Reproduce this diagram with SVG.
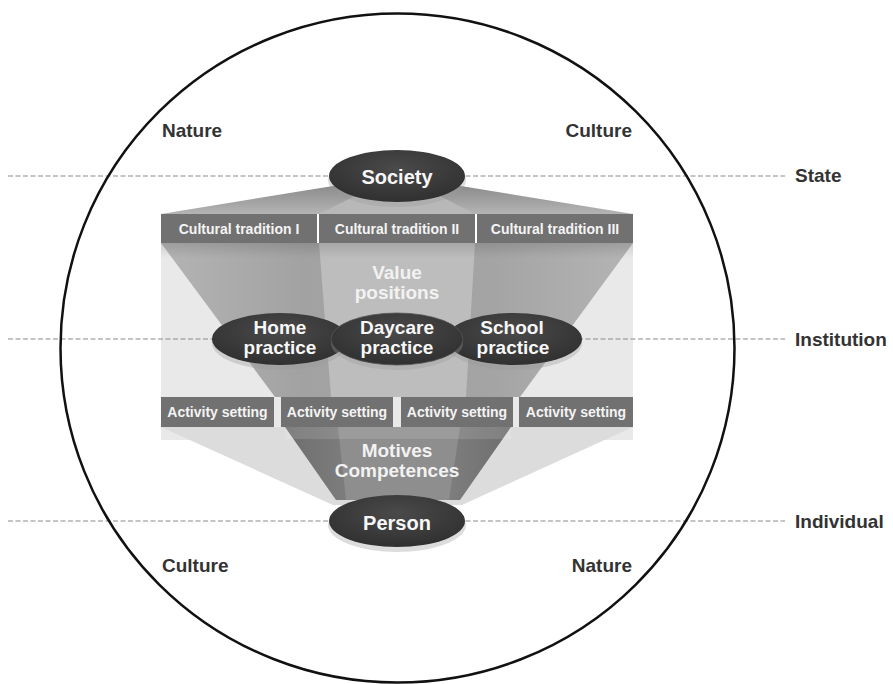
<svg xmlns="http://www.w3.org/2000/svg" width="893" height="684" viewBox="0 0 893 684">
<style>
.lbl{font-family:"Liberation Sans",Arial,sans-serif;font-weight:bold;font-size:19px;fill:#333}
.bar{fill:#717171}
.bartxt{font-family:"Liberation Sans",Arial,sans-serif;font-weight:bold;font-size:14px;fill:#f4f4f4;text-anchor:middle}
.node{fill:url(#nodeG)}
.shadow{fill:#9a9a9a;opacity:0.35}
.ntxt{font-family:"Liberation Sans",Arial,sans-serif;font-weight:bold;font-size:20px;fill:#f7f7f7;text-anchor:middle}
.ntxt2{font-family:"Liberation Sans",Arial,sans-serif;font-weight:bold;font-size:19px;fill:#f7f7f7;text-anchor:middle}
.mid{font-family:"Liberation Sans",Arial,sans-serif;font-weight:bold;font-size:19px;fill:#f2f2f2;text-anchor:middle}
.dash{stroke:#8a8a8a;stroke-width:1;stroke-dasharray:5 2.5;fill:none}
</style>
<defs>
<radialGradient id="nodeG" cx="0.5" cy="0.35" r="0.7">
<stop offset="0" stop-color="#4a4a4a"/>
<stop offset="1" stop-color="#2e2e2e"/>
</radialGradient>
<linearGradient id="topFan" x1="0" y1="186" x2="0" y2="214" gradientUnits="userSpaceOnUse">
<stop offset="0" stop-color="#8c8c8c"/>
<stop offset="1" stop-color="#b4b4b4"/>
</linearGradient>
<linearGradient id="midFan" x1="161" y1="0" x2="633" y2="0" gradientUnits="userSpaceOnUse">
<stop offset="0" stop-color="#b4b4b4"/>
<stop offset="0.3" stop-color="#a2a2a2"/>
<stop offset="0.7" stop-color="#a4a4a4"/>
<stop offset="1" stop-color="#b4b4b4"/>
</linearGradient>
<linearGradient id="botFan" x1="285" y1="0" x2="511" y2="0" gradientUnits="userSpaceOnUse">
<stop offset="0" stop-color="#6e6e6e"/>
<stop offset="0.5" stop-color="#8a8a8a"/>
<stop offset="1" stop-color="#6e6e6e"/>
</linearGradient>
<linearGradient id="shade" x1="0" y1="243" x2="0" y2="258" gradientUnits="userSpaceOnUse">
<stop offset="0" stop-color="#000" stop-opacity="0.12"/>
<stop offset="1" stop-color="#000" stop-opacity="0"/>
</linearGradient>
</defs>
<rect x="0" y="0" width="893" height="684" fill="#ffffff"/>

<g id="fans">
<polygon points="161,214 333,186 461,186 633,214" fill="url(#topFan)"/>
<polygon points="355,196 440,196 475,214 319,214" fill="#b8b8b8"/>
<rect x="161" y="243" width="472" height="197" fill="#e9e9e9"/>
<polygon points="161,427 633,427 462,505 333,505" fill="#dcdcdc"/>
<polygon points="161,243 633,243 520,397 275,397" fill="url(#midFan)"/>
<polygon points="319,243 475,243 466,397 331,397" fill="#bdbdbd"/>
<rect x="161" y="243" width="472" height="15" fill="url(#shade)"/>
<polygon points="285,427 511,427 460,500 336,500" fill="url(#botFan)"/>
<polygon points="338,427 460,427 449,500 346,500" fill="#8e8e8e"/>
<rect x="285" y="427" width="226" height="12" fill="#ffffff" opacity="0.12"/>
</g>

<g id="connectors">
<line class="dash" x1="8" y1="176" x2="785" y2="176"/>
<line class="dash" x1="8" y1="339" x2="785" y2="339"/>
<line class="dash" x1="8" y1="521" x2="785" y2="521"/>
</g>

<ellipse id="boundary" cx="397.5" cy="348" rx="337" ry="334.5" fill="none" stroke="#111" stroke-width="2.5"/>

<g id="label-nature-top"><text class="lbl" x="162" y="137">Nature</text></g>
<g id="label-culture-top"><text class="lbl" x="632" y="137" text-anchor="end">Culture</text></g>
<g id="label-culture-bottom"><text class="lbl" x="162" y="572">Culture</text></g>
<g id="label-nature-bottom"><text class="lbl" x="632" y="572" text-anchor="end">Nature</text></g>
<g id="label-state"><text class="lbl" x="795" y="182">State</text></g>
<g id="label-institution"><text class="lbl" x="795" y="346">Institution</text></g>
<g id="label-individual"><text class="lbl" x="795" y="528">Individual</text></g>

<g id="trad1"><rect class="bar" x="161" y="214" width="156" height="29"/><text class="bartxt" x="239" y="233.5">Cultural tradition I</text></g>
<g id="trad2"><rect class="bar" x="319" y="214" width="156" height="29"/><text class="bartxt" x="397" y="233.5">Cultural tradition II</text></g>
<g id="trad3"><rect class="bar" x="477" y="214" width="156" height="29"/><text class="bartxt" x="555" y="233.5">Cultural tradition III</text></g>

<g id="value-positions"><text class="mid" x="397" y="279">Value</text><text class="mid" x="397" y="299">positions</text></g>

<g id="act1"><rect class="bar" x="161" y="397" width="113" height="30"/><text class="bartxt" x="217.5" y="417">Activity setting</text></g>
<g id="act2"><rect class="bar" x="281" y="397" width="112" height="30"/><text class="bartxt" x="337" y="417">Activity setting</text></g>
<g id="act3"><rect class="bar" x="401" y="397" width="112" height="30"/><text class="bartxt" x="457" y="417">Activity setting</text></g>
<g id="act4"><rect class="bar" x="519" y="397" width="114" height="30"/><text class="bartxt" x="576" y="417">Activity setting</text></g>

<g id="motives"><text class="mid" x="397" y="457">Motives</text><text class="mid" x="397" y="477">Competences</text></g>

<g id="society">
<ellipse class="shadow" cx="397" cy="180" rx="69" ry="27"/>
<ellipse class="node" cx="397" cy="176" rx="68" ry="26"/>
<text class="ntxt" x="397" y="184" font-size="21">Society</text>
</g>

<g id="home">
<ellipse class="shadow" cx="280" cy="343" rx="68" ry="27"/>
<ellipse class="node" cx="280" cy="339" rx="68" ry="26"/>
<text class="ntxt2" x="280" y="334">Home</text><text class="ntxt2" x="280" y="354">practice</text>
</g>
<g id="school">
<ellipse class="shadow" cx="514" cy="343" rx="68" ry="27"/>
<ellipse class="node" cx="514" cy="339" rx="68" ry="26"/>
<text class="ntxt2" x="512" y="334">School</text><text class="ntxt2" x="513" y="354">practice</text>
</g>
<g id="daycare">
<ellipse class="shadow" cx="397" cy="343" rx="66" ry="27"/>
<ellipse class="node" cx="397" cy="339" rx="66" ry="26" stroke="#555" stroke-width="0.8"/>
<text class="ntxt2" x="397" y="334">Daycare</text><text class="ntxt2" x="397" y="354">practice</text>
</g>

<g id="person">
<ellipse class="shadow" cx="397" cy="525" rx="69" ry="27"/>
<ellipse class="node" cx="397" cy="521" rx="68" ry="26"/>
<text class="ntxt" x="397" y="530">Person</text>
</g>
</svg>
